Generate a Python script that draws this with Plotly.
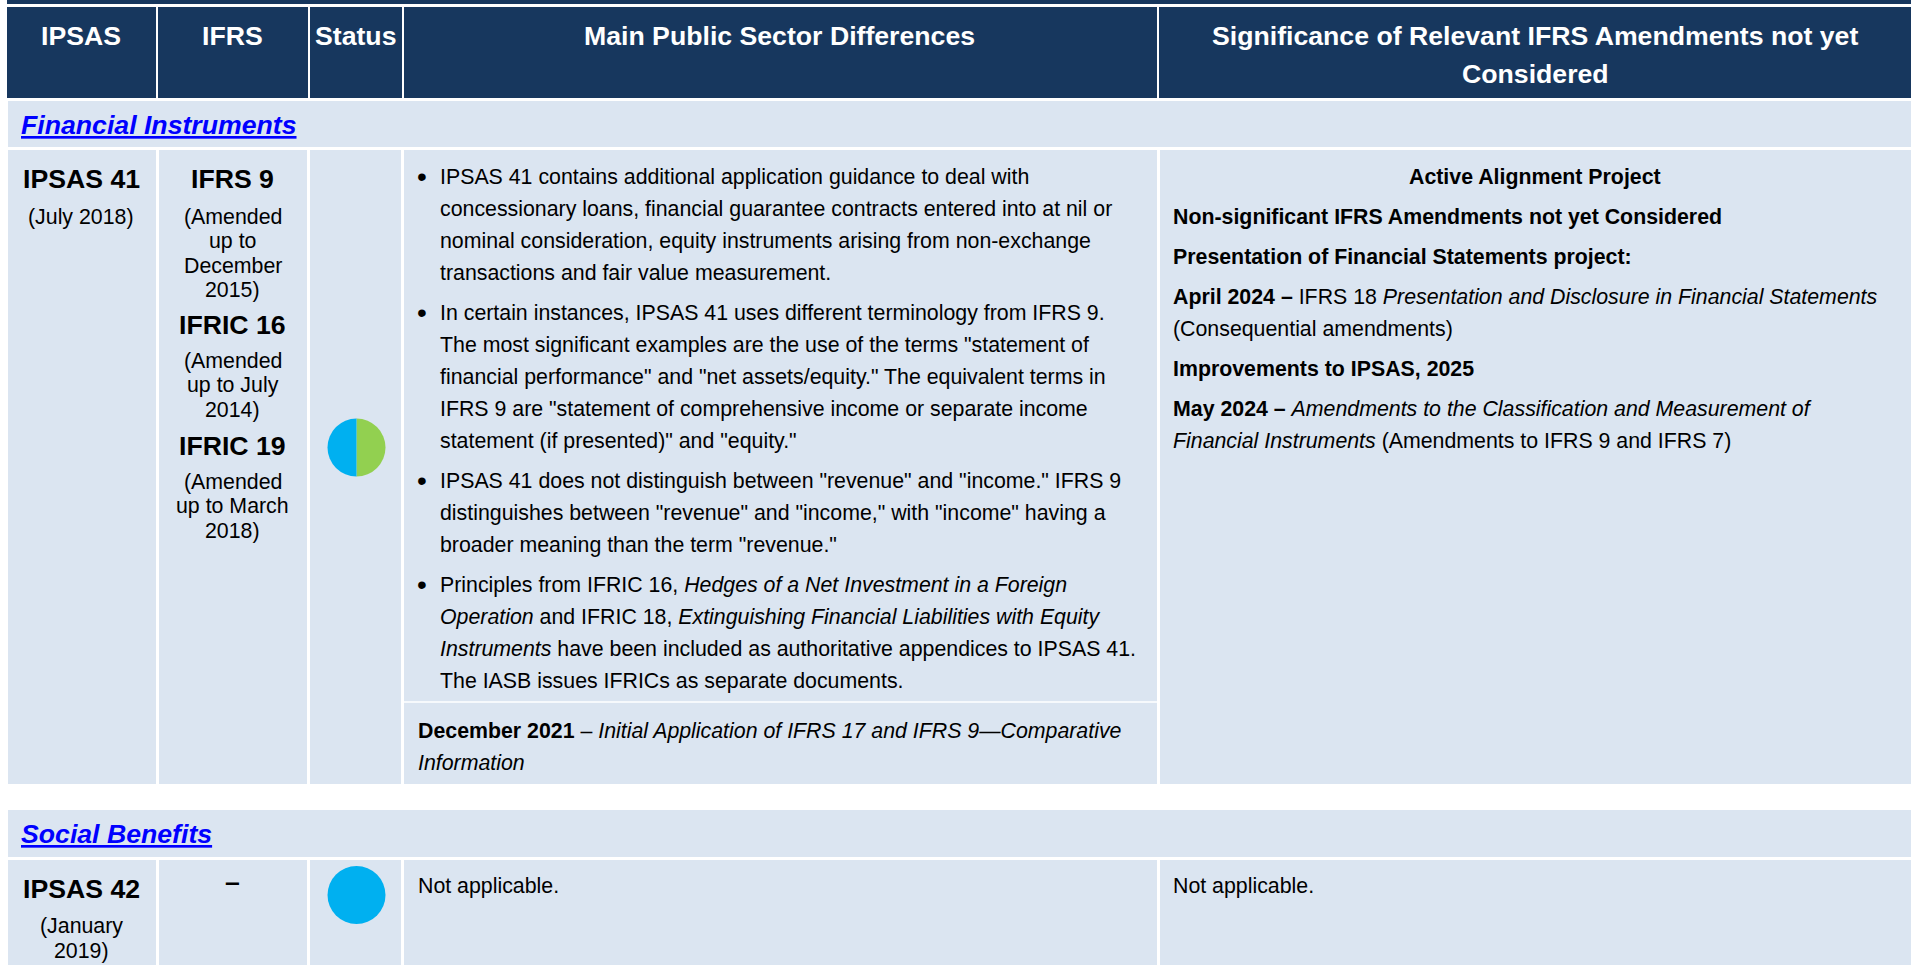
import plotly.graph_objects as go

# ---------- content ----------
column_headers = ["IPSAS", "IFRS", "Status", "Main Public Sector Differences"]
last_header_lines = ["Significance of Relevant IFRS Amendments not yet", "Considered"]
section_titles = ["Financial Instruments", "Social Benefits"]

ipsas_41 = ["IPSAS 41", "(July 2018)"]
ipsas_42 = ["IPSAS 42", "(January", "2019)"]
ifrs_titles = ["IFRS 9", "IFRIC 16", "IFRIC 19"]
ifrs_notes = [
    ["(Amended", "up to", "December", "2015)"],
    ["(Amended", "up to July", "2014)"],
    ["(Amended", "up to March", "2018)"],
]
no_ifrs = "–"
not_applicable = "Not applicable."

bullets = [
    ["IPSAS 41 contains additional application guidance to deal with",
     "concessionary loans, financial guarantee contracts entered into at nil or",
     "nominal consideration, equity instruments arising from non-exchange",
     "transactions and fair value measurement."],
    ["In certain instances, IPSAS 41 uses different terminology from IFRS 9.",
     'The most significant examples are the use of the terms "statement of',
     'financial performance" and "net assets/equity." The equivalent terms in',
     'IFRS 9 are "statement of comprehensive income or separate income',
     'statement (if presented)" and "equity."'],
    ['IPSAS 41 does not distinguish between "revenue" and "income." IFRS 9',
     'distinguishes between "revenue" and "income," with "income" having a',
     'broader meaning than the term "revenue."'],
    ["Principles from IFRIC 16, <i>Hedges of a Net Investment in a Foreign</i>",
     "<i>Operation</i> and IFRIC 18, <i>Extinguishing Financial Liabilities with Equity</i>",
     "<i>Instruments</i> have been included as authoritative appendices to IPSAS 41.",
     "The IASB issues IFRICs as separate documents."],
]
december_note = ["<b>December 2021</b> – <i>Initial Application of IFRS 17 and IFRS 9—Comparative</i>",
                 "<i>Information</i>"]
active_project = "<b>Active Alignment Project</b>"
right_blocks = [
    ["<b>Non-significant IFRS Amendments not yet Considered</b>"],
    ["<b>Presentation of Financial Statements project:</b>"],
    ["<b>April 2024 –</b> IFRS 18 <i>Presentation and Disclosure in Financial Statements</i>",
     "(Consequential amendments)"],
    ["<b>Improvements to IPSAS, 2025</b>"],
    ["<b>May 2024 –</b> <i>Amendments to the Classification and Measurement of</i>",
     "<i>Financial Instruments</i> (Amendments to IFRS 9 and IFRS 7)"],
]
status_labels = ["Aligned part", "Other part"]
status_41 = [50, 50]
status_42 = [100]

# ---------- layout constants ----------
W, H = 1915, 965
NAVY, PALE, BLUE, GREEN, LINK = "#17375E", "#DBE5F1", "#00B0F0", "#92D050", "#0000FF"
FONT = "Liberation Sans, Arial, sans-serif"
BODY, HEAD = 21.33, 26.67

shapes = []
def rect(x0, y0, x1, y1, color):
    shapes.append(dict(type="rect", xref="x", yref="y", x0=x0, y0=y0, x1=x1, y1=y1,
                       fillcolor=color, line=dict(width=0), layer="below"))

rect(7, 0, 1911, 4, NAVY)
for x0, x1 in [(7, 156), (158, 308), (310, 402), (404, 1157), (1159, 1911)]:
    rect(x0, 7, x1, 98, NAVY)
body_cols = [(8, 156), (159, 307), (310, 401), (404, 1157), (1160, 1911)]
rect(8, 101, 1911, 147, PALE)
rect(8, 810, 1911, 857, PALE)
for x0, x1 in body_cols:
    rect(x0, 150, x1, 784, PALE)
    rect(x0, 860, x1, 965, PALE)
shapes.append(dict(type="line", xref="x", yref="y", x0=404, x1=1157, y0=702, y1=702,
                   line=dict(color="white", width=1.5), layer="below"))

ann = []
def text(x, y, s, size=BODY, color="black", anchor="left", bold=False, italic=False, under=False):
    f = dict(family=FONT, size=size, color=color)
    if bold: f["weight"] = "bold"
    if italic: f["style"] = "italic"
    if under: f["lineposition"] = "under"
    ann.append(dict(xref="x", yref="y", x=x, y=y, text=s, showarrow=False, xanchor=anchor,
                    yanchor="middle", align=anchor, font=f, borderpad=0))

# headers
for cx, s in zip((81, 232.5, 355, 779.5), column_headers):
    text(cx, 36, s, HEAD, "white", "center", bold=True)
for y, s in zip((36, 74), last_header_lines):
    text(1535, y, s, HEAD, "white", "center", bold=True)

# sections
for y, s in zip((125, 834), section_titles):
    text(20, y, s, HEAD, LINK, bold=True, italic=True, under=True)

# left columns
text(81, 178.5, ipsas_41[0], HEAD, anchor="center", bold=True)
text(81, 217, ipsas_41[1], anchor="center")
text(81, 888.5, ipsas_42[0], HEAD, anchor="center", bold=True)
for y, s in zip((926, 950.5), ipsas_42[1:]):
    text(81, y, s, anchor="center")
for y, s in zip((178.5, 325, 446), ifrs_titles):
    text(232.5, y, s, HEAD, anchor="center", bold=True)
for y0, step, lines in zip((216.5, 361, 482), (24.5, 24.4, 24.4), ifrs_notes):
    for i, s in enumerate(lines):
        text(232.5, y0 + i * step, s, anchor="center")
text(232.5, 882, no_ifrs, HEAD, anchor="center", bold=True)

# main differences column
for y0, lines in zip((177, 313, 481, 585), bullets):
    text(421.5, y0 - 1, "•", size=28, anchor="center")
    for i, s in enumerate(lines):
        text(439.3, y0 + i * 32, s)
for i, s in enumerate(december_note):
    text(417, 731 + i * 32, s)
text(417, 886, not_applicable)

# right column
text(1535, 177, active_project, anchor="center")
for y0, lines in zip((217, 257, 297, 369, 409), right_blocks):
    for i, s in enumerate(lines):
        text(1171.5, y0 + i * 32, s)
text(1171.5, 886, not_applicable)

def pie(cy, values, colors):
    r, cx = 29, 356.5
    return go.Pie(values=values, labels=status_labels[:len(values)], sort=False, direction="clockwise",
                  rotation=0, marker=dict(colors=colors, line=dict(width=0)),
                  textinfo="none", hoverinfo="skip", showlegend=False,
                  domain=dict(x=[(cx - r) / W, (cx + r) / W], y=[1 - (cy + r) / H, 1 - (cy - r) / H]))

fig = go.Figure([go.Scatter(x=[], y=[], hoverinfo="skip", showlegend=False),
                 pie(447.5, status_41, [GREEN, BLUE]), pie(895, status_42, [BLUE])])
fig.update_layout(width=W, height=H, margin=dict(l=0, r=0, t=0, b=0), paper_bgcolor="white",
                  plot_bgcolor="white", shapes=shapes, annotations=ann, showlegend=False,
                  xaxis=dict(range=[0, W], visible=False, fixedrange=True),
                  yaxis=dict(range=[H, 0], visible=False, fixedrange=True))
fig.write_html("out.html", config=dict(displayModeBar=False),
               post_script="document.body.style.margin='0';document.body.style.overflow='hidden';")
